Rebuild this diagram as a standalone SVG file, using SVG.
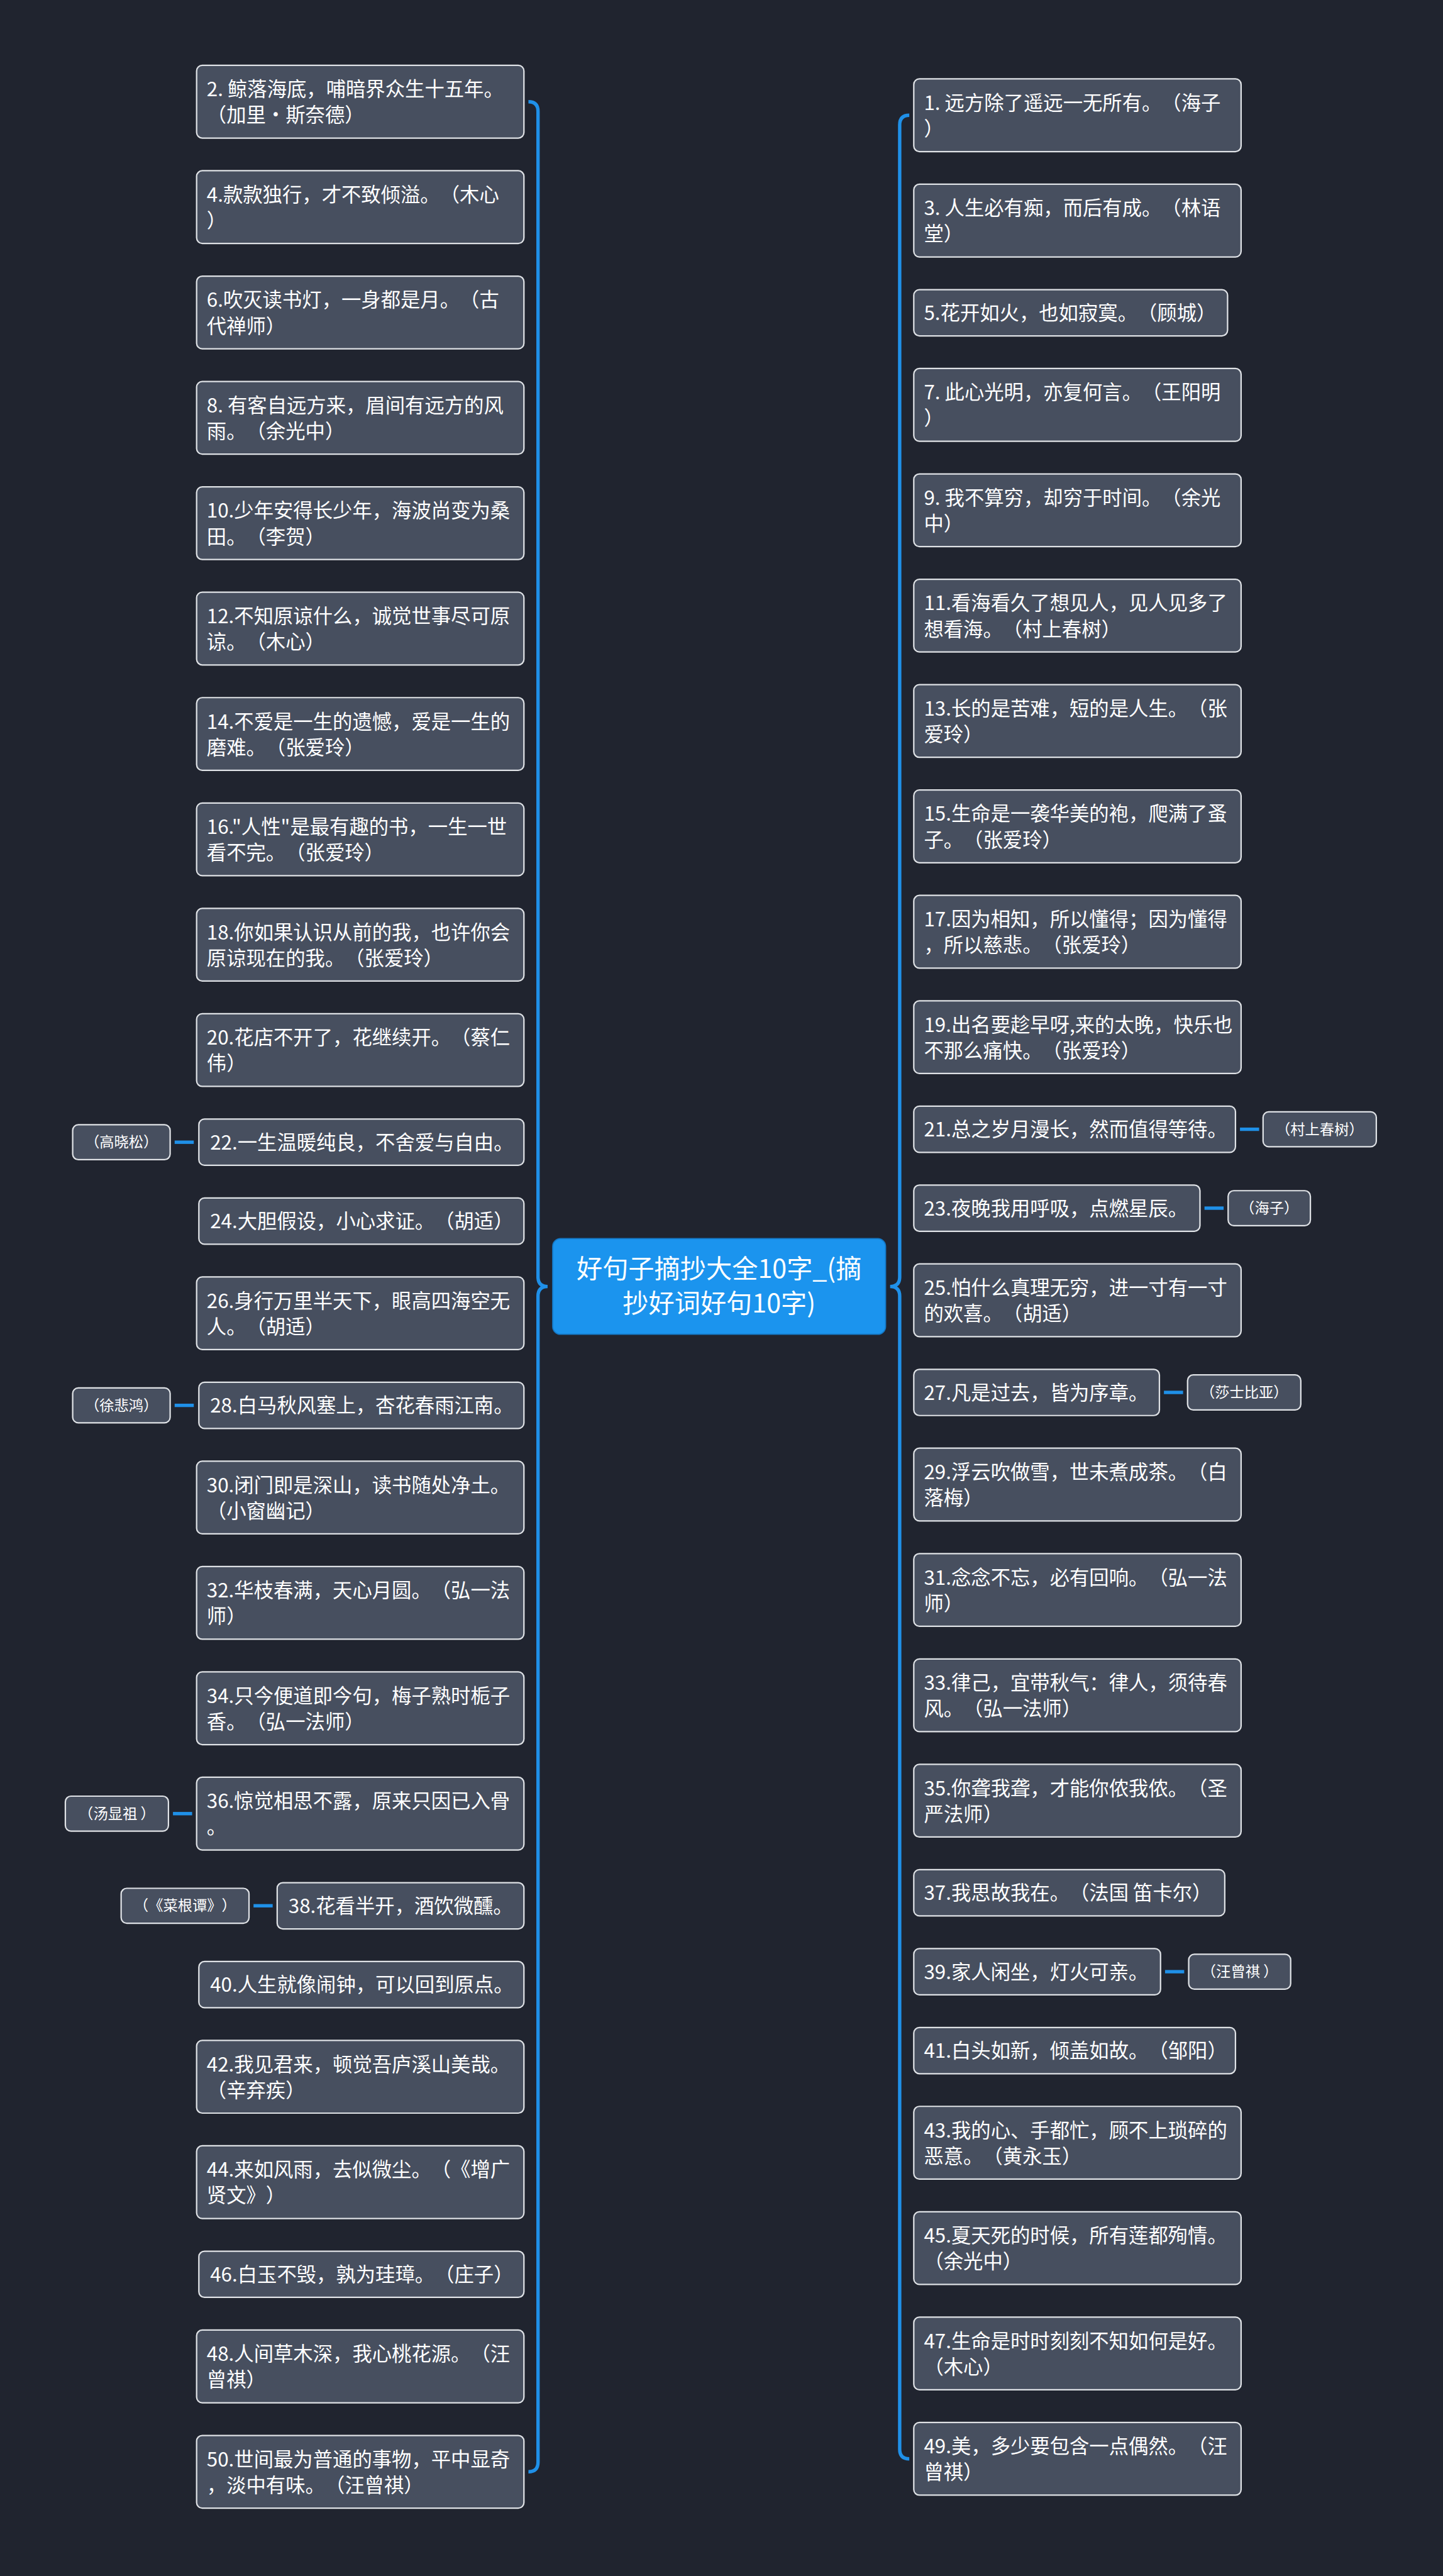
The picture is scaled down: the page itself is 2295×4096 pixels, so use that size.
<svg xmlns="http://www.w3.org/2000/svg" width="2295" height="4096" viewBox="0 0 2295 4096">
<style>
.n rect{fill:#474f5f;stroke:#dfe2e6;stroke-width:2.5}
.t{font-family:"Noto Sans CJK SC","Noto Sans",sans-serif;font-size:35px;fill:#ffffff;text-spacing-trim:space-all}
.s{font-family:"Noto Sans CJK SC","Noto Sans",sans-serif;font-size:26px;fill:#ffffff;text-anchor:middle;text-spacing-trim:space-all}
.m{font-family:"Noto Sans CJK SC","Noto Sans",sans-serif;font-size:46px;fill:#ffffff;text-anchor:middle}
.c{stroke:#1f90e8;stroke-width:6;fill:none}
</style>
<rect x="0" y="0" width="2295" height="4096" fill="#20242f"/>
<g transform="scale(0.896)">
<g id="connectors">
<path class="c" d="M938,180.5 Q955,180.5 955,197.5 L955,2266 Q955,2283 972,2283 Q955,2283 955,2300 L955,4369.5 Q955,4386.5 938,4386.5"/>
<path class="c" d="M1614,204.5 Q1597,204.5 1597,221.5 L1597,2266 Q1597,2283 1580,2283 Q1597,2283 1597,2300 L1597,4346.5 Q1597,4363.5 1614,4363.5"/>
<line class="c" x1="310" y1="2027" x2="344" y2="2027"/>
<line class="c" x1="310" y1="2494" x2="344" y2="2494"/>
<line class="c" x1="307" y1="3218.5" x2="341" y2="3218.5"/>
<line class="c" x1="450" y1="3382" x2="484" y2="3382"/>
<line class="c" x1="2201" y1="2004" x2="2235" y2="2004"/>
<line class="c" x1="2138" y1="2144" x2="2172" y2="2144"/>
<line class="c" x1="2066" y1="2471" x2="2100" y2="2471"/>
<line class="c" x1="2068" y1="3499" x2="2102" y2="3499"/>
</g>
<g id="center">
<rect x="981" y="2198" width="591" height="170" rx="14" fill="#1b94ee" stroke="#1477c4" stroke-width="2"/>
<text class="m" x="1276.5" y="2268">好句子摘抄大全10字_(摘</text>
<text class="m" x="1276.5" y="2329">抄好词好句10字)</text>
</g>
<g id="n2" class="n"><rect x="349" y="116" width="581" height="129" rx="10"/><text class="t" x="367" y="171">2. 鲸落海底，哺暗界众生十五年。</text><text class="t" x="367" y="217">（加里·斯奈德）</text></g>
<g id="n4" class="n"><rect x="349" y="303" width="581" height="129" rx="10"/><text class="t" x="367" y="358">4.款款独行，才不致倾溢。（木心</text><text class="t" x="367" y="404">）</text></g>
<g id="n6" class="n"><rect x="349" y="490" width="581" height="129" rx="10"/><text class="t" x="367" y="545">6.吹灭读书灯，一身都是月。（古</text><text class="t" x="367" y="591">代禅师）</text></g>
<g id="n8" class="n"><rect x="349" y="677" width="581" height="129" rx="10"/><text class="t" x="367" y="732">8. 有客自远方来，眉间有远方的风</text><text class="t" x="367" y="778">雨。（余光中）</text></g>
<g id="n10" class="n"><rect x="349" y="864" width="581" height="129" rx="10"/><text class="t" x="367" y="919">10.少年安得长少年，海波尚变为桑</text><text class="t" x="367" y="965">田。（李贺）</text></g>
<g id="n12" class="n"><rect x="349" y="1051" width="581" height="129" rx="10"/><text class="t" x="367" y="1106">12.不知原谅什么，诚觉世事尽可原</text><text class="t" x="367" y="1152">谅。（木心）</text></g>
<g id="n14" class="n"><rect x="349" y="1238" width="581" height="129" rx="10"/><text class="t" x="367" y="1293">14.不爱是一生的遗憾，爱是一生的</text><text class="t" x="367" y="1339">磨难。（张爱玲）</text></g>
<g id="n16" class="n"><rect x="349" y="1425" width="581" height="129" rx="10"/><text class="t" x="367" y="1480">16."人性"是最有趣的书，一生一世</text><text class="t" x="367" y="1526">看不完。（张爱玲）</text></g>
<g id="n18" class="n"><rect x="349" y="1612" width="581" height="129" rx="10"/><text class="t" x="367" y="1667">18.你如果认识从前的我，也许你会</text><text class="t" x="367" y="1713">原谅现在的我。（张爱玲）</text></g>
<g id="n20" class="n"><rect x="349" y="1799" width="581" height="129" rx="10"/><text class="t" x="367" y="1854">20.花店不开了，花继续开。（蔡仁</text><text class="t" x="367" y="1900">伟）</text></g>
<g id="n22" class="n"><rect x="353" y="1986" width="577" height="82" rx="10"/><text class="t" x="373" y="2040">22.一生温暖纯良，不舍爱与自由。</text></g>
<g id="n22a" class="n"><rect x="129" y="1996" width="173" height="62" rx="10"/><text class="s" x="215.5" y="2036">（高晓松）</text></g>
<g id="n24" class="n"><rect x="353" y="2126" width="577" height="82" rx="10"/><text class="t" x="373" y="2180">24.大胆假设，小心求证。（胡适）</text></g>
<g id="n26" class="n"><rect x="349" y="2266" width="581" height="129" rx="10"/><text class="t" x="367" y="2321">26.身行万里半天下，眼高四海空无</text><text class="t" x="367" y="2367">人。（胡适）</text></g>
<g id="n28" class="n"><rect x="353" y="2453" width="577" height="82" rx="10"/><text class="t" x="373" y="2507">28.白马秋风塞上，杏花春雨江南。</text></g>
<g id="n28a" class="n"><rect x="129" y="2463" width="173" height="62" rx="10"/><text class="s" x="215.5" y="2503">（徐悲鸿）</text></g>
<g id="n30" class="n"><rect x="349" y="2593" width="581" height="129" rx="10"/><text class="t" x="367" y="2648">30.闭门即是深山，读书随处净土。</text><text class="t" x="367" y="2694">（小窗幽记）</text></g>
<g id="n32" class="n"><rect x="349" y="2780" width="581" height="129" rx="10"/><text class="t" x="367" y="2835">32.华枝春满，天心月圆。（弘一法</text><text class="t" x="367" y="2881">师）</text></g>
<g id="n34" class="n"><rect x="349" y="2967" width="581" height="129" rx="10"/><text class="t" x="367" y="3022">34.只今便道即今句，梅子熟时栀子</text><text class="t" x="367" y="3068">香。（弘一法师）</text></g>
<g id="n36" class="n"><rect x="349" y="3154" width="581" height="129" rx="10"/><text class="t" x="367" y="3209">36.惊觉相思不露，原来只因已入骨</text><text class="t" x="367" y="3255">。</text></g>
<g id="n36a" class="n"><rect x="116" y="3187.5" width="183" height="62" rx="10"/><text class="s" x="207.5" y="3227.5">（汤显祖 ）</text></g>
<g id="n38" class="n"><rect x="492" y="3341" width="438" height="82" rx="10"/><text class="t" x="512" y="3395">38.花看半开，酒饮微醺。</text></g>
<g id="n38a" class="n"><rect x="215" y="3351" width="227" height="62" rx="10"/><text class="s" x="328.5" y="3391">（《菜根谭》）</text></g>
<g id="n40" class="n"><rect x="353" y="3481" width="577" height="82" rx="10"/><text class="t" x="373" y="3535">40.人生就像闹钟，可以回到原点。</text></g>
<g id="n42" class="n"><rect x="349" y="3621" width="581" height="129" rx="10"/><text class="t" x="367" y="3676">42.我见君来，顿觉吾庐溪山美哉。</text><text class="t" x="367" y="3722">（辛弃疾）</text></g>
<g id="n44" class="n"><rect x="349" y="3808" width="581" height="129" rx="10"/><text class="t" x="367" y="3863">44.来如风雨，去似微尘。（《增广</text><text class="t" x="367" y="3909">贤文》）</text></g>
<g id="n46" class="n"><rect x="353" y="3995" width="577" height="82" rx="10"/><text class="t" x="373" y="4049">46.白玉不毁，孰为珪璋。（庄子）</text></g>
<g id="n48" class="n"><rect x="349" y="4135" width="581" height="129" rx="10"/><text class="t" x="367" y="4190">48.人间草木深，我心桃花源。（汪</text><text class="t" x="367" y="4236">曾祺）</text></g>
<g id="n50" class="n"><rect x="349" y="4322" width="581" height="129" rx="10"/><text class="t" x="367" y="4377">50.世间最为普通的事物，平中显奇</text><text class="t" x="367" y="4423">，淡中有味。（汪曾祺）</text></g>
<g id="n1" class="n"><rect x="1622" y="140" width="581" height="129" rx="10"/><text class="t" x="1640" y="195">1. 远方除了遥远一无所有。（海子</text><text class="t" x="1640" y="241">）</text></g>
<g id="n3" class="n"><rect x="1622" y="327" width="581" height="129" rx="10"/><text class="t" x="1640" y="382">3. 人生必有痴，而后有成。（林语</text><text class="t" x="1640" y="428">堂）</text></g>
<g id="n5" class="n"><rect x="1622" y="514" width="557" height="82" rx="10"/><text class="t" x="1640" y="568">5.花开如火，也如寂寞。（顾城）</text></g>
<g id="n7" class="n"><rect x="1622" y="654" width="581" height="129" rx="10"/><text class="t" x="1640" y="709">7. 此心光明，亦复何言。（王阳明</text><text class="t" x="1640" y="755">）</text></g>
<g id="n9" class="n"><rect x="1622" y="841" width="581" height="129" rx="10"/><text class="t" x="1640" y="896">9. 我不算穷，却穷于时间。（余光</text><text class="t" x="1640" y="942">中）</text></g>
<g id="n11" class="n"><rect x="1622" y="1028" width="581" height="129" rx="10"/><text class="t" x="1640" y="1083">11.看海看久了想见人，见人见多了</text><text class="t" x="1640" y="1129">想看海。（村上春树）</text></g>
<g id="n13" class="n"><rect x="1622" y="1215" width="581" height="129" rx="10"/><text class="t" x="1640" y="1270">13.长的是苦难，短的是人生。（张</text><text class="t" x="1640" y="1316">爱玲）</text></g>
<g id="n15" class="n"><rect x="1622" y="1402" width="581" height="129" rx="10"/><text class="t" x="1640" y="1457">15.生命是一袭华美的袍，爬满了蚤</text><text class="t" x="1640" y="1503">子。（张爱玲）</text></g>
<g id="n17" class="n"><rect x="1622" y="1589" width="581" height="129" rx="10"/><text class="t" x="1640" y="1644">17.因为相知，所以懂得；因为懂得</text><text class="t" x="1640" y="1690">，所以慈悲。（张爱玲）</text></g>
<g id="n19" class="n"><rect x="1622" y="1776" width="581" height="129" rx="10"/><text class="t" x="1640" y="1831">19.出名要趁早呀,来的太晚，快乐也</text><text class="t" x="1640" y="1877">不那么痛快。（张爱玲）</text></g>
<g id="n21" class="n"><rect x="1622" y="1963" width="571" height="82" rx="10"/><text class="t" x="1640" y="2017">21.总之岁月漫长，然而值得等待。</text></g>
<g id="n21a" class="n"><rect x="2242" y="1973" width="201" height="62" rx="10"/><text class="s" x="2342.5" y="2013">（村上春树）</text></g>
<g id="n23" class="n"><rect x="1622" y="2103" width="508" height="82" rx="10"/><text class="t" x="1640" y="2157">23.夜晚我用呼吸，点燃星辰。</text></g>
<g id="n23a" class="n"><rect x="2180" y="2113" width="146" height="62" rx="10"/><text class="s" x="2253" y="2153">（海子）</text></g>
<g id="n25" class="n"><rect x="1622" y="2243" width="581" height="129" rx="10"/><text class="t" x="1640" y="2298">25.怕什么真理无穷，进一寸有一寸</text><text class="t" x="1640" y="2344">的欢喜。（胡适）</text></g>
<g id="n27" class="n"><rect x="1622" y="2430" width="436" height="82" rx="10"/><text class="t" x="1640" y="2484">27.凡是过去，皆为序章。</text></g>
<g id="n27a" class="n"><rect x="2108" y="2440" width="201" height="62" rx="10"/><text class="s" x="2208.5" y="2480">（莎士比亚）</text></g>
<g id="n29" class="n"><rect x="1622" y="2570" width="581" height="129" rx="10"/><text class="t" x="1640" y="2625">29.浮云吹做雪，世未煮成茶。（白</text><text class="t" x="1640" y="2671">落梅）</text></g>
<g id="n31" class="n"><rect x="1622" y="2757" width="581" height="129" rx="10"/><text class="t" x="1640" y="2812">31.念念不忘，必有回响。（弘一法</text><text class="t" x="1640" y="2858">师）</text></g>
<g id="n33" class="n"><rect x="1622" y="2944" width="581" height="129" rx="10"/><text class="t" x="1640" y="2999">33.律己，宜带秋气：律人，须待春</text><text class="t" x="1640" y="3045">风。（弘一法师）</text></g>
<g id="n35" class="n"><rect x="1622" y="3131" width="581" height="129" rx="10"/><text class="t" x="1640" y="3186">35.你聋我聋，才能你侬我侬。（圣</text><text class="t" x="1640" y="3232">严法师）</text></g>
<g id="n37" class="n"><rect x="1622" y="3318" width="552" height="82" rx="10"/><text class="t" x="1640" y="3372">37.我思故我在。（法国 笛卡尔）</text></g>
<g id="n39" class="n"><rect x="1622" y="3458" width="438" height="82" rx="10"/><text class="t" x="1640" y="3512">39.家人闲坐，灯火可亲。</text></g>
<g id="n39a" class="n"><rect x="2110" y="3468" width="181" height="62" rx="10"/><text class="s" x="2200.5" y="3508">（汪曾祺 ）</text></g>
<g id="n41" class="n"><rect x="1622" y="3598" width="571" height="82" rx="10"/><text class="t" x="1640" y="3652">41.白头如新，倾盖如故。（邹阳）</text></g>
<g id="n43" class="n"><rect x="1622" y="3738" width="581" height="129" rx="10"/><text class="t" x="1640" y="3793">43.我的心、手都忙，顾不上琐碎的</text><text class="t" x="1640" y="3839">恶意。（黄永玉）</text></g>
<g id="n45" class="n"><rect x="1622" y="3925" width="581" height="129" rx="10"/><text class="t" x="1640" y="3980">45.夏天死的时候，所有莲都殉情。</text><text class="t" x="1640" y="4026">（余光中）</text></g>
<g id="n47" class="n"><rect x="1622" y="4112" width="581" height="129" rx="10"/><text class="t" x="1640" y="4167">47.生命是时时刻刻不知如何是好。</text><text class="t" x="1640" y="4213">（木心）</text></g>
<g id="n49" class="n"><rect x="1622" y="4299" width="581" height="129" rx="10"/><text class="t" x="1640" y="4354">49.美，多少要包含一点偶然。（汪</text><text class="t" x="1640" y="4400">曾祺）</text></g>
</g>
</svg>
